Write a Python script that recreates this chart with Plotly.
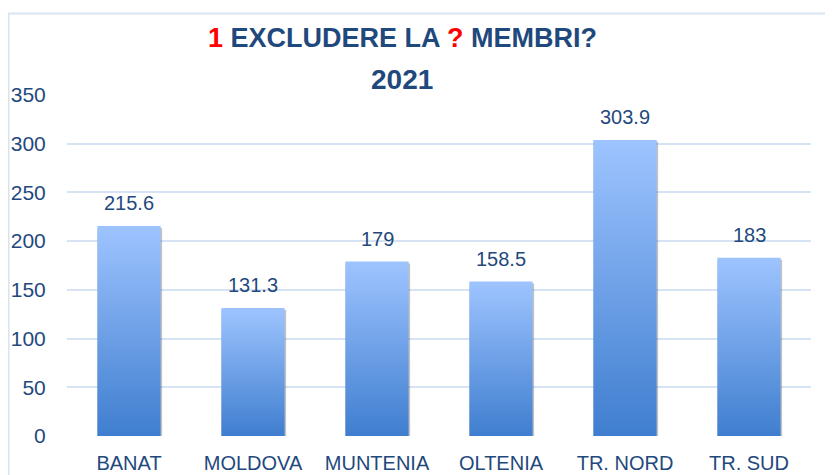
import plotly.graph_objects as go

categories = ["BANAT", "MOLDOVA", "MUNTENIA", "OLTENIA", "TR. NORD", "TR. SUD"]
values = [215.6, 131.3, 179, 158.5, 303.9, 183]
value_labels = ["215.6", "131.3", "179", "158.5", "303.9", "183"]
y_ticks = [0, 50, 100, 150, 200, 250, 300, 350]
title_line1 = ("<span style='color:#FF0000'>1</span> EXCLUDERE LA "
               "<span style='color:#FF0000'>?</span> MEMBRI?")
title_line2 = "2021"

FONT = "Liberation Sans Narrow, Arial Narrow, Liberation Sans, Arial, sans-serif"
TXT = "#1F497D"
HALF = 0.255
OFF = 8  # page body margin
L, R_EDGE, T, B_EDGE = 67 - OFF, 811 - OFF, 95 - OFF, 436 - OFF
W, H = 833 - OFF, 475 - OFF
PLOT_H = float(B_EDGE - T)
PLOT_W = float(R_EDGE - L)


def px_to_paper_x(px):
    return (px - OFF - L) / PLOT_W


def px_to_paper_y(py):
    return (B_EDGE - (py - OFF)) / PLOT_H


fig = go.Figure()

for i, (cat, v) in enumerate(zip(categories, values)):
    # soft shadow behind bar
    fig.add_trace(go.Scatter(
        x=[i - HALF, i - HALF, i + HALF + 0.012, i + HALF + 0.012, i - HALF],
        y=[-2.8, v - 2, v - 2, -2.8, -2.8],
        fill="toself", mode="none", fillcolor="rgba(70,70,70,0.33)",
        hoverinfo="skip", showlegend=False,
    ))
    fig.add_trace(go.Scatter(
        x=[i - HALF, i - HALF, i + HALF, i + HALF, i - HALF],
        y=[0, v, v, 0, 0],
        fill="toself", mode="none",
        fillgradient=dict(type="vertical",
                          colorscale=[[0, "#3F7ECF"], [1, "#9EC4FF"]]),
        name=cat, showlegend=False,
    ))

for i, (v, t) in enumerate(zip(values, value_labels)):
    fig.add_annotation(x=i, y=v, text=t, showarrow=False, yanchor="bottom",
                       yshift=10, font=dict(family=FONT, size=20, color=TXT))

fig.add_annotation(x=px_to_paper_x(402), y=px_to_paper_y(38),
                   xref="paper", yref="paper", xanchor="center", yanchor="middle",
                   text=title_line1, showarrow=False,
                   font=dict(family=FONT, size=27, color=TXT, weight="bold"))
fig.add_annotation(x=px_to_paper_x(402), y=px_to_paper_y(79.5),
                   xref="paper", yref="paper", xanchor="center", yanchor="middle",
                   text=title_line2, showarrow=False,
                   font=dict(family=FONT, size=28, color=TXT, weight="bold"))

fig.add_shape(type="rect", xref="paper", yref="paper",
              x0=px_to_paper_x(8.5), x1=1.2, y0=-0.5, y1=px_to_paper_y(13.5),
              line=dict(color="#D9E4F2", width=2), fillcolor="rgba(0,0,0,0)",
              layer="below")

fig.update_layout(
    width=W, height=H,
    margin=dict(l=L, r=W - R_EDGE, t=T, b=H - B_EDGE),
    paper_bgcolor="white", plot_bgcolor="white",
    xaxis=dict(
        range=[-0.5, len(categories) - 0.5], automargin=False,
        tickmode="array", tickvals=list(range(len(categories))), ticktext=categories,
        showgrid=False, zeroline=False, showline=False,
        ticks="outside", ticklen=9, tickcolor="rgba(0,0,0,0)",
        tickfont=dict(family=FONT, size=20, color=TXT),
    ),
    yaxis=dict(
        range=[0, 350], tickmode="array", tickvals=y_ticks, automargin=False,
        showgrid=True, gridcolor="#D6E3F5", gridwidth=2,
        zeroline=False, showline=False,
        ticks="outside", ticklen=16, tickcolor="rgba(0,0,0,0)",
        tickfont=dict(family=FONT, size=21, color=TXT),
    ),
)

fig.write_html("out.html")
